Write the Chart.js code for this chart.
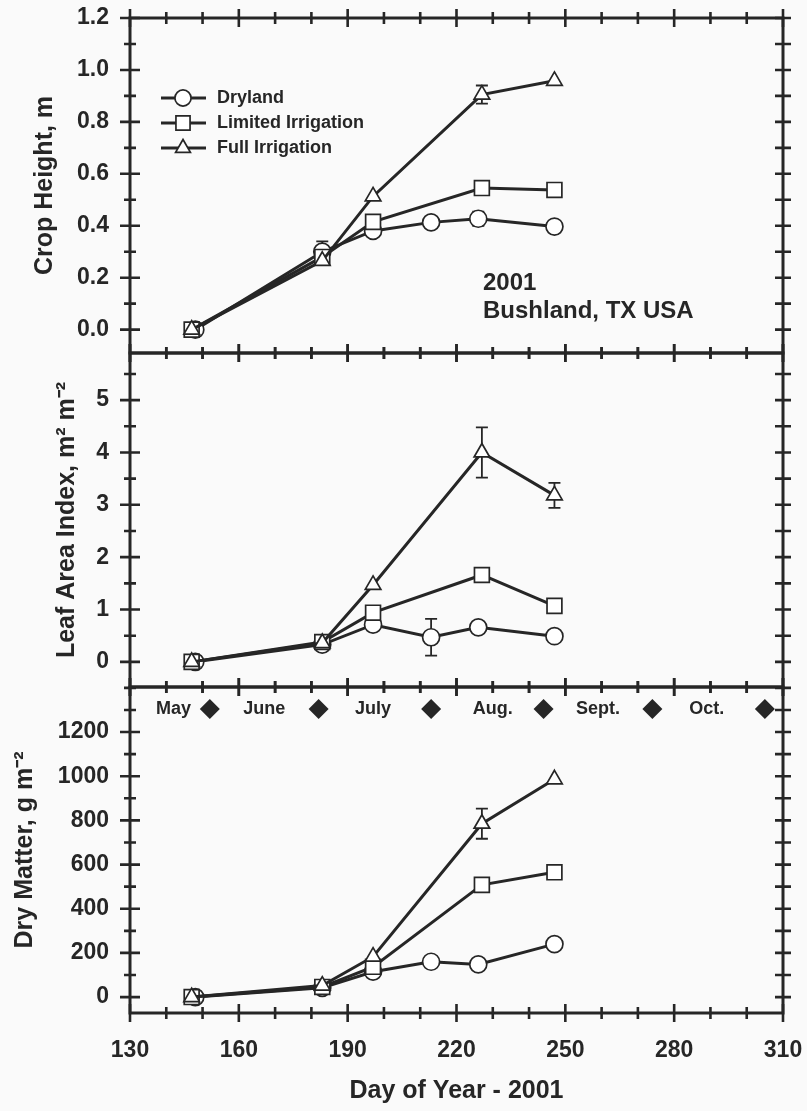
<!DOCTYPE html>
<html>
<head>
<meta charset="utf-8">
<title>Crop growth 2001 - Bushland, TX</title>
<script src="https://cdn.jsdelivr.net/npm/chart.js@4.4.1/dist/chart.umd.min.js"></script>
<style>
  html, body { margin: 0; padding: 0; background: #fafafa; }
  #wrap { position: relative; width: 807px; height: 1111px; }
</style>
</head>
<body>
<div id="wrap"><canvas id="chart" width="807" height="1111"></canvas></div>
<script>
// --- data ---
const seriesNames = ['Dryland', 'Limited Irrigation', 'Full Irrigation'];
const dryDays = [148, 183, 197, 213, 226, 247];
const irrDays = [147, 183, 197, 227, 247];

// crop height, m
const cropDryland = [0, 0.30, 0.38, 0.413, 0.427, 0.397];
const cropLimited = [0, 0.28, 0.415, 0.545, 0.538];
const cropFull = [0, 0.265, 0.513, 0.905, 0.958];
const cropDrylandErr = [null, 0.04, null, null, 0.027, null];
const cropFullErr = [null, null, null, 0.035, null];

// leaf area index, m2 m-2
const laiDryland = [0, 0.33, 0.71, 0.47, 0.66, 0.49];
const laiLimited = [0, 0.38, 0.94, 1.66, 1.07];
const laiFull = [0, 0.36, 1.47, 4.0, 3.18];
const laiDrylandErr = [null, null, null, 0.35, null, null];
const laiLimitedErr = [null, null, null, 0.08, null];
const laiFullErr = [null, null, null, 0.48, 0.24];

// dry matter, g m-2
const dmDryland = [0, 42, 115, 160, 148, 240];
const dmLimited = [0, 46, 137, 508, 565];
const dmFull = [0, 52, 183, 785, 986];
const dmFullErr = [null, null, null, 68, null];

// ticks and month strip
const xTicks = [130, 160, 190, 220, 250, 280, 310];
const cropTicks = [0, 0.2, 0.4, 0.6, 0.8, 1.0, 1.2];
const laiTicks = [0, 1, 2, 3, 4, 5];
const dmTicks = [0, 200, 400, 600, 800, 1000, 1200];
const monthNames = ['May', 'June', 'July', 'Aug.', 'Sept.', 'Oct.'];
const monthLabelDays = [142, 167, 197, 230, 259, 289];
const monthStartDays = [152, 182, 213, 244, 274, 305];

// --- styling ---
const INK = '#262626';
const FONT = "'Liberation Sans', Arial, Helvetica, sans-serif";
const markers = [
  { style: 'circle', radius: 8.5 },
  { style: 'rect', radius: 10.5 },
  { style: 'triangle', radius: 9 }
];

const pts = (days, vals) => days.map((d, i) => ({ x: d, y: vals[i] }));

function makeSet(idx, days, vals, axis, err) {
  return {
    label: seriesNames[idx],
    data: pts(days, vals),
    yAxisID: axis,
    err: err || null,
    borderColor: INK,
    borderWidth: 3,
    backgroundColor: '#ffffff',
    pointStyle: markers[idx].style,
    pointRadius: markers[idx].radius,
    pointHoverRadius: markers[idx].radius,
    pointBorderWidth: 1.7,
    pointBorderColor: INK,
    pointBackgroundColor: '#ffffff',
    tension: 0,
    fill: false
  };
}

const datasets = [
  makeSet(2, irrDays, cropFull, 'yCrop', cropFullErr),
  makeSet(1, irrDays, cropLimited, 'yCrop'),
  makeSet(0, dryDays, cropDryland, 'yCrop', cropDrylandErr),
  makeSet(2, irrDays, laiFull, 'yLai', laiFullErr),
  makeSet(1, irrDays, laiLimited, 'yLai', laiLimitedErr),
  makeSet(0, dryDays, laiDryland, 'yLai', laiDrylandErr),
  makeSet(2, irrDays, dmFull, 'yDm', dmFullErr),
  makeSet(1, irrDays, dmLimited, 'yDm'),
  makeSet(0, dryDays, dmDryland, 'yDm')
];

// minor tick steps per panel
const minorStep = { yCrop: 0.1, yLai: 0.5, yDm: 100 };

function drawMarker(ctx, style, r, x, y) {
  ctx.beginPath();
  if (style === 'circle') {
    ctx.arc(x, y, r, 0, Math.PI * 2);
  } else if (style === 'rect') {
    const h = r * Math.SQRT1_2;
    ctx.rect(x - h, y - h, 2 * h, 2 * h);
  } else {
    for (let k = 0; k < 3; k++) {
      const a = -Math.PI / 2 + k * 2 * Math.PI / 3;
      const px = x + r * Math.cos(a), py = y + r * Math.sin(a);
      k ? ctx.lineTo(px, py) : ctx.moveTo(px, py);
    }
    ctx.closePath();
  }
  ctx.fillStyle = '#ffffff';
  ctx.fill();
  ctx.lineWidth = 1.7;
  ctx.strokeStyle = INK;
  ctx.stroke();
}

const panelDeco = {
  id: 'panelDeco',
  beforeDatasetsDraw(chart) {
    // error bars
    const ctx = chart.ctx;
    const xs = chart.scales.x;
    ctx.save();
    ctx.strokeStyle = INK;
    ctx.lineWidth = 1.8;
    chart.data.datasets.forEach(ds => {
      if (!ds.err) return;
      const ys = chart.scales[ds.yAxisID];
      ds.data.forEach((p, i) => {
        const e = ds.err[i];
        if (e == null) return;
        const x = xs.getPixelForValue(p.x);
        const y1 = ys.getPixelForValue(p.y + e);
        const y2 = ys.getPixelForValue(p.y - e);
        ctx.beginPath();
        ctx.moveTo(x, y1); ctx.lineTo(x, y2);
        ctx.moveTo(x - 6, y1); ctx.lineTo(x + 6, y1);
        ctx.moveTo(x - 6, y2); ctx.lineTo(x + 6, y2);
        ctx.stroke();
      });
    });
    ctx.restore();
  },
  afterDraw(chart) {
    const ctx = chart.ctx;
    const xs = chart.scales.x;
    const { left, right } = chart.chartArea;
    ctx.save();
    ctx.strokeStyle = INK;
    ctx.fillStyle = INK;
    ctx.lineCap = 'butt';

    ['yCrop', 'yLai', 'yDm'].forEach(id => {
      const s = chart.scales[id];
      // frame
      ctx.lineWidth = 3;
      ctx.strokeRect(left, s.top, right - left, s.bottom - s.top);
      // y ticks, crossing left and right axes
      ctx.lineWidth = 2.6;
      const step = minorStep[id];
      const majors = s.ticks.map(t => t.value);
      for (let v = Math.ceil(s.min / step - 1e-6) * step; v <= s.max + 1e-6; v += step) {
        const y = s.getPixelForValue(v);
        const major = majors.some(m => Math.abs(m - v) < step / 10);
        const hl = major ? 10 : 6;
        ctx.beginPath();
        ctx.moveTo(left - hl, y); ctx.lineTo(left + hl, y);
        ctx.moveTo(right - 8, y); ctx.lineTo(right + 8, y);
        ctx.stroke();
      }
      // x ticks on top and bottom of each panel
      for (let d = xs.min; d <= xs.max; d += 10) {
        const x = xs.getPixelForValue(d);
        const hl = (d - xs.min) % 30 === 0 ? 9 : 6;
        ctx.beginPath();
        ctx.moveTo(x, s.top - hl); ctx.lineTo(x, s.top + hl);
        ctx.moveTo(x, s.bottom - hl); ctx.lineTo(x, s.bottom + hl);
        ctx.stroke();
      }
    });

    // legend in the top panel
    const top = chart.scales.yCrop.top;
    ctx.font = 'bold 18px ' + FONT;
    ctx.textBaseline = 'middle';
    ctx.textAlign = 'left';
    [0, 1, 2].forEach(k => {
      const y = top + 80 + k * 25;
      ctx.lineWidth = 3;
      ctx.beginPath();
      ctx.moveTo(left + 31, y); ctx.lineTo(left + 76, y);
      ctx.stroke();
      drawMarker(ctx, markers[k].style, markers[k].radius * 0.95, left + 53, y);
      ctx.fillStyle = INK;
      ctx.fillText(seriesNames[k], left + 87, y);
    });

    // site annotation
    ctx.font = 'bold 24px ' + FONT;
    ctx.fillText('2001', left + 353, top + 265);
    ctx.fillText('Bushland, TX USA', left + 353, top + 293);

    // month strip at top of dry matter panel
    const my = chart.scales.yDm.top + 22;
    ctx.font = 'bold 18px ' + FONT;
    ctx.textAlign = 'center';
    monthNames.forEach((m, i) => ctx.fillText(m, xs.getPixelForValue(monthLabelDays[i]), my));
    monthStartDays.forEach(d => {
      const x = xs.getPixelForValue(d);
      ctx.beginPath();
      ctx.moveTo(x, my - 10); ctx.lineTo(x + 10, my); ctx.lineTo(x, my + 10); ctx.lineTo(x - 10, my);
      ctx.closePath();
      ctx.fill();
    });
    ctx.restore();
  }
};

const tickFont = { family: FONT, size: 23, weight: 'bold' };
const titleFont = { family: FONT, size: 25, weight: 'bold' };

function yAxis(opts) {
  return {
    type: 'linear',
    position: 'left',
    stack: 'panels',
    stackWeight: opts.h,
    weight: opts.w,
    min: opts.min,
    max: opts.max,
    afterBuildTicks: s => { s.ticks = opts.ticks.map(v => ({ value: v })); },
    afterFit: s => { s.width = 130; s.paddingTop = 0; s.paddingBottom = 0; },
    grid: { display: false, drawTicks: false },
    border: { display: false },
    ticks: { padding: 21, color: INK, font: tickFont, autoSkip: false, callback: opts.fmt },
    title: { display: true, text: opts.title, color: INK, font: titleFont, padding: { top: opts.tx, bottom: 0 } }
  };
}

new Chart(document.getElementById('chart'), {
  type: 'line',
  data: { datasets },
  plugins: [panelDeco],
  options: {
    responsive: false,
    animation: false,
    layout: { padding: { top: 18, right: 24, left: 0, bottom: 0 } },
    plugins: { legend: { display: false }, tooltip: { enabled: false } },
    scales: {
      x: {
        type: 'linear',
        position: 'bottom',
        min: 130,
        max: 310,
        afterBuildTicks: s => { s.ticks = xTicks.map(v => ({ value: v })); },
        afterFit: s => { s.height = 98; s.paddingLeft = 0; s.paddingRight = 0; },
        grid: { display: false, drawTicks: false },
        border: { display: false },
        ticks: { padding: 24, color: INK, font: tickFont, autoSkip: false, maxRotation: 0, callback: v => String(v) },
        title: { display: true, text: 'Day of Year - 2001', color: INK, font: titleFont, padding: { top: 0, bottom: 5 } }
      },
      yCrop: yAxis({ h: 335, w: 3, min: -0.09, max: 1.2, ticks: cropTicks, fmt: v => v.toFixed(1), title: 'Crop Height, m', tx: 30 }),
      yLai: yAxis({ h: 334, w: 2, min: -0.48, max: 5.9, ticks: laiTicks, fmt: v => String(v), title: 'Leaf Area Index, m\u00B2 m\u207B\u00B2', tx: 52 }),
      yDm: yAxis({ h: 326, w: 1, min: -72, max: 1404, ticks: dmTicks, fmt: v => String(v), title: 'Dry Matter, g m\u207B\u00B2', tx: 10 })
    }
  }
});
</script>
</body>
</html>
